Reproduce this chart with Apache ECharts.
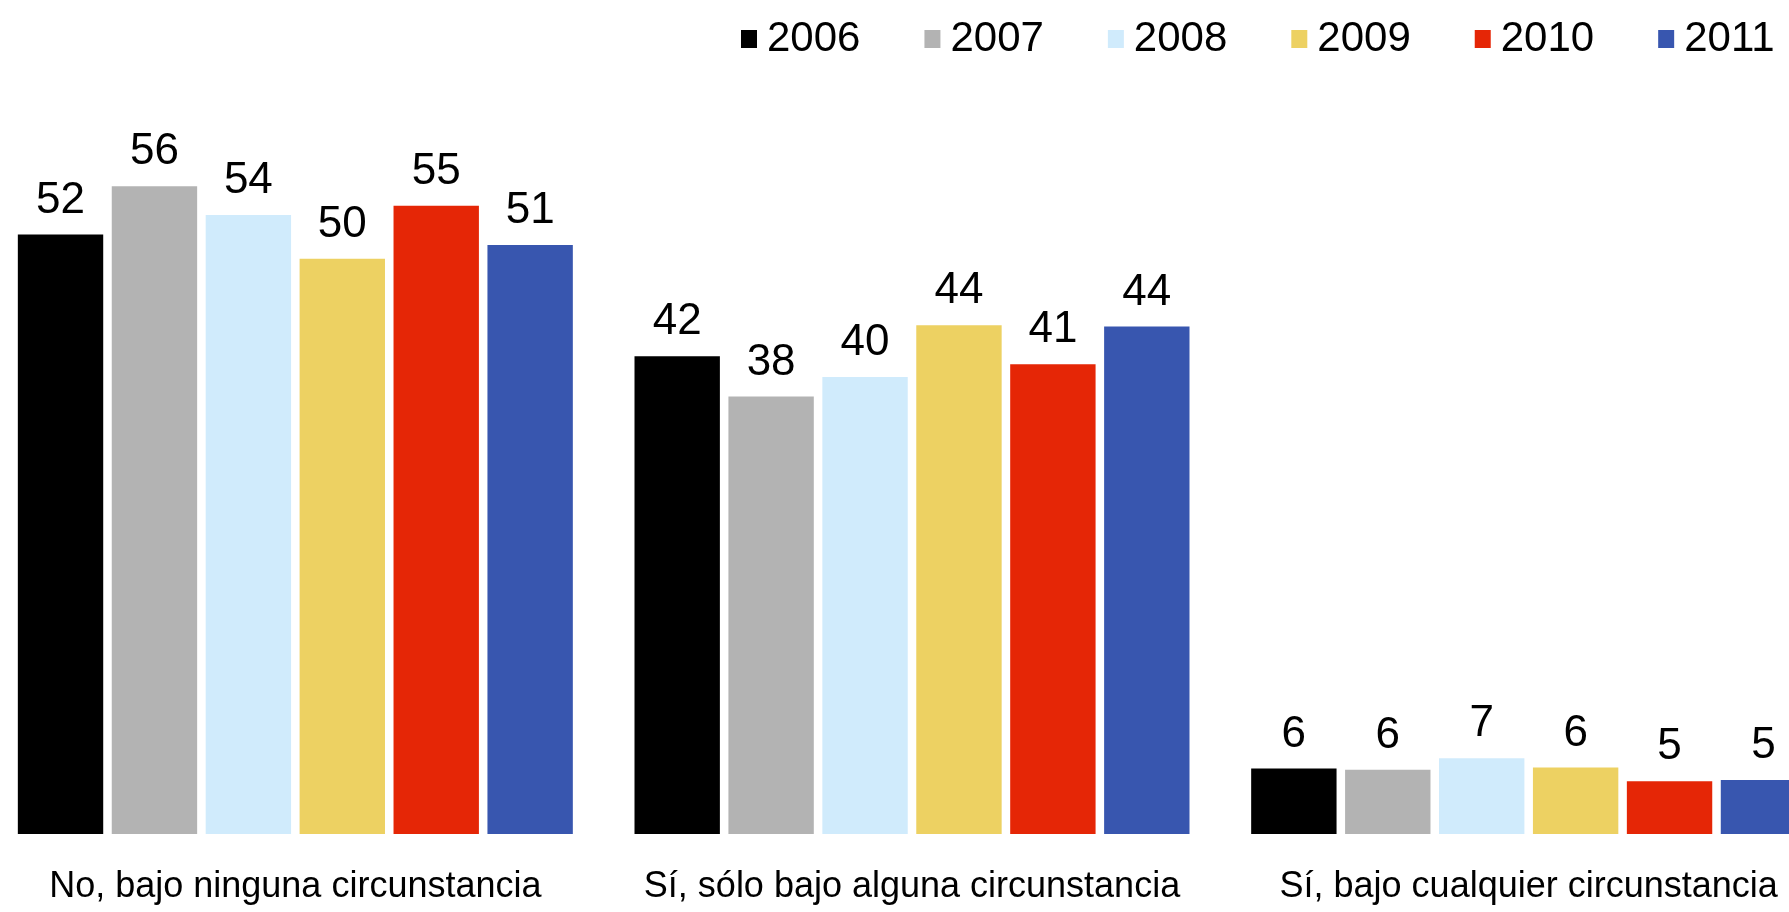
<!DOCTYPE html>
<html>
<head>
<meta charset="UTF-8">
<title>chart</title>
<script src="https://cdn.jsdelivr.net/npm/echarts@6/dist/echarts.min.js"></script>
<style>
  html, body { margin: 0; padding: 0; background: #fff; }
  #main { width: 1789px; height: 912px; }
</style>
</head>
<body>
<div id="main"></div>
<script type="text/javascript">
// categorias del eje x
var categories = ['No, bajo ninguna circunstancia', 'Sí, sólo bajo alguna circunstancia', 'Sí, bajo cualquier circunstancia'];
var years = ['2006', '2007', '2008', '2009', '2010', '2011'];
// porcentajes por año
var v2006 = [52.2, 41.6, 5.7];
var v2007 = [56.4, 38.1, 5.6];
var v2008 = [53.9, 39.8, 6.6];
var v2009 = [50.1, 44.3, 5.8];
var v2010 = [54.7, 40.9, 4.6];
var v2011 = [51.3, 44.2, 4.7];

var colors = ['#000000', '#b3b3b3', '#d0ebfc', '#edd162', '#e52606', '#3856af'];
var font = '"Liberation Sans", Arial, sans-serif';

var values = [v2006, v2007, v2008, v2009, v2010, v2011];
var series = [];
for (var i = 0; i < years.length; i++) {
    series.push({
        name: years[i],
        type: 'bar',
        data: values[i],
        barGap: '10%',
        barCategoryGap: '10%',
        itemStyle: { color: colors[i] },
        label: {
            show: true,
            position: 'top',
            distance: 12,
            color: '#000',
            fontFamily: font,
            fontSize: 44,
            lineHeight: 44,
            formatter: function (p) { return Math.round(p.value); }
        }
    });
}

var myChart = echarts.init(document.getElementById('main'));
var option = {
    animation: false,
    color: colors,
    legend: {
        data: years,
        left: 736,
        top: 13,
        icon: 'rect',
        itemWidth: 16,
        itemHeight: 18,
        itemGap: 64,
        textStyle: {
            color: '#000',
            fontFamily: font,
            fontSize: 42,
            lineHeight: 42,
            padding: [0, 0, 0, 5]
        }
    },
    grid: {
        left: -13,
        width: 1850,
        top: 145,
        bottom: 78,
        containLabel: false,
        outerBoundsMode: 'none'
    },
    xAxis: {
        type: 'category',
        data: categories,
        axisLine: { show: false },
        axisTick: { show: false },
        axisLabel: {
            interval: 0,
            margin: 35,
            color: '#000',
            fontFamily: font,
            fontSize: 36,
            lineHeight: 36
        }
    },
    yAxis: {
        type: 'value',
        min: 0,
        max: 60,
        show: false,
        splitLine: { show: false }
    },
    series: series
};
myChart.setOption(option);
</script>
</body>
</html>
